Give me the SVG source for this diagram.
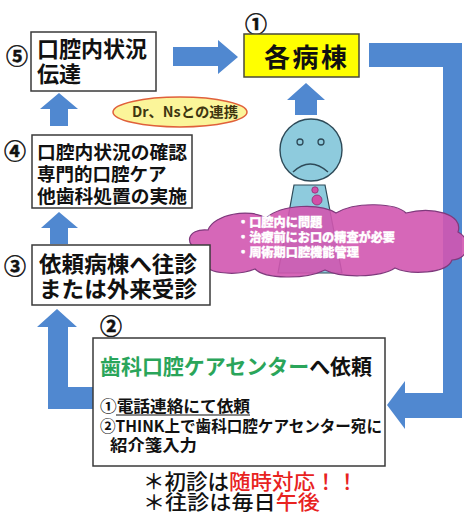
<svg xmlns="http://www.w3.org/2000/svg" width="464" height="516" viewBox="0 0 464 516">
  <style>
    .jp { font-family: "Noto Sans CJK JP", "Noto Sans", sans-serif; }
    .box { fill: #ffffff; stroke: #3a3a3a; stroke-width: 1.5; }
    .arrow { fill: #5088d0; }
    .num { font-size: 22px; font-weight: 700; fill: #111; stroke: #111; stroke-width: 0.5; }
    .t22 { font-size: 22px; font-weight: 700; fill: #111; }
    .t18 { font-size: 18.5px; font-weight: 700; fill: #111; }
    .t16 { font-size: 16px; font-weight: 700; fill: #111; }
    .cloudtxt { font-size: 12.2px; font-weight: 900; fill: #ffffff; stroke: #ffffff; stroke-width: 0.35; }
    .red { fill: #e8231f; }
    .green { fill: #2aa55a; }
  </style>

  <rect width="464" height="516" fill="#ffffff"/>

  <!-- connectors: block arrows -->
  <g id="connectors">
    <!-- box 5 to ward -->
    <polygon class="arrow" points="173,47 218,47 218,40 238,57 218,74 218,66 173,66"/>
    <!-- patient up to ward -->
    <polygon class="arrow" points="295,115 295,100 287,100 306,83 325,100 317,100 317,115"/>
    <!-- box 4 up to box 5 -->
    <polygon class="arrow" points="50,126 50,109 40,109 59,93 78,109 68,109 68,126"/>
    <!-- box 3 up to box 4 -->
    <polygon class="arrow" points="50,244 50,228 41,228 59,212 78,228 68,228 68,244"/>
    <!-- box 2 back up to box 3 -->
    <polygon class="arrow" points="57,309 77,327 68,327 68,387 94,387 94,409 48,409 48,327 37,327"/>
    <!-- ward round to box 2 -->
    <polygon class="arrow" points="369,43 462,43 462,418 405,418 405,429 387,405 405,381 405,393 443,393 443,67 369,67"/>
  </g>

  <!-- patient figure -->
  <g id="patient">
    <polygon points="294,185 325,185 342,273 278,273" fill="#8ecbdd" stroke="#2e4a58" stroke-width="1.2"/>
    <circle cx="315" cy="190" r="3.2" fill="#d24fa8" stroke="#8a2f70" stroke-width="0.8"/>
    <circle cx="317" cy="200" r="5" fill="#d24fa8" stroke="#8a2f70" stroke-width="0.8"/>
    <circle cx="311" cy="150" r="31" fill="#8ecbdd" stroke="#2e4a58" stroke-width="1.4"/>
    <circle cx="300" cy="142" r="3" fill="#8ecbdd" stroke="#2e4a58" stroke-width="1.3"/>
    <circle cx="321" cy="142" r="3" fill="#8ecbdd" stroke="#2e4a58" stroke-width="1.3"/>
    <path d="M293,172 Q310,156 328,172" fill="none" stroke="#2e4a58" stroke-width="1.5"/>
  </g>

  <!-- condition cloud -->
  <g id="cloud">
    <path d="M200,250 C184,246 186,228 208,230 C214,214 250,208 266,218 C282,204 320,203 336,213 C356,201 396,203 406,213 C432,206 464,214 458,232 C472,239 470,259 452,260 C447,274 410,275 395,268 C380,278 340,278 325,270 C305,280 265,279 255,269 C235,277 200,273 206,261 C194,261 192,254 200,250 Z"
          fill="#d257b0" fill-opacity="0.9" stroke="#7e3a7c" stroke-width="1.2"/>
    <text class="jp cloudtxt" x="237" y="227">・口腔内に問題</text>
    <text class="jp cloudtxt" x="237" y="242" textLength="158" lengthAdjust="spacingAndGlyphs">・治療前にお口の精査が必要</text>
    <text class="jp cloudtxt" x="237" y="257">・周術期口腔機能管理</text>
  </g>

  <!-- 1: ward -->
  <g id="ward">
    <text class="jp num" x="256" y="32" text-anchor="middle">①</text>
    <rect x="244" y="34" width="115" height="43" fill="#ffff00" stroke="#4a4a3a" stroke-width="1.5"/>
    <text class="jp" x="264" y="67" font-size="26" font-weight="700" fill="#111" textLength="83" lengthAdjust="spacing">各病棟</text>
  </g>

  <!-- 5: report oral condition -->
  <g id="step5">
    <text class="jp num" x="17" y="64" text-anchor="middle">⑤</text>
    <rect class="box" x="31" y="32" width="125" height="59"/>
    <text class="jp t22" x="37" y="57">口腔内状況</text>
    <text class="jp t22" x="37" y="82">伝達</text>
  </g>

  <!-- cooperation ellipse -->
  <g id="cooperation">
    <ellipse cx="180" cy="112" rx="67" ry="15" fill="#fbf59a" stroke="#e0603a" stroke-width="1.5"/>
    <text class="jp" x="185" y="117" font-size="14" font-weight="700" fill="#3e3510" text-anchor="middle" textLength="106" lengthAdjust="spacingAndGlyphs">Dr、Nsとの連携</text>
  </g>

  <!-- 4: examination and care -->
  <g id="step4">
    <text class="jp num" x="15" y="159" text-anchor="middle">④</text>
    <rect class="box" x="32" y="135" width="160" height="73"/>
    <text class="jp t18" x="37" y="159" textLength="150" lengthAdjust="spacingAndGlyphs">口腔内状況の確認</text>
    <text class="jp t18" x="37" y="181">専門的口腔ケア</text>
    <text class="jp t18" x="37" y="203" textLength="150" lengthAdjust="spacingAndGlyphs">他歯科処置の実施</text>
  </g>

  <!-- 3: visit or outpatient -->
  <g id="step3">
    <text class="jp num" x="15" y="274" text-anchor="middle">③</text>
    <rect class="box" x="32" y="245" width="178" height="60"/>
    <text class="jp t22" x="39" y="272" textLength="158" lengthAdjust="spacingAndGlyphs">依頼病棟へ往診</text>
    <text class="jp t22" x="39" y="297" textLength="158" lengthAdjust="spacingAndGlyphs">または外来受診</text>
  </g>

  <!-- 2: request to dental care center -->
  <g id="step2">
    <text class="jp num" x="111" y="334" text-anchor="middle">②</text>
    <rect class="box" x="93" y="338" width="292" height="128"/>
    <text class="jp" x="100" y="374" font-size="21" font-weight="700" fill="#111" textLength="272" lengthAdjust="spacingAndGlyphs"><tspan class="green">歯科口腔ケアセンター</tspan>へ依頼</text>
    <text class="jp t16" x="100" y="412" textLength="150" lengthAdjust="spacingAndGlyphs">①電話連絡にて依頼</text>
    <line x1="116" y1="415" x2="250" y2="415" stroke="#111" stroke-width="1.2"/>
    <text class="jp t16" x="100" y="432" textLength="282" lengthAdjust="spacingAndGlyphs">②THINK上で歯科口腔ケアセンター宛に</text>
    <text class="jp t16" x="110" y="451" textLength="87" lengthAdjust="spacingAndGlyphs">紹介箋入力</text>
  </g>

  <!-- notes -->
  <g id="notes">
    <text class="jp" x="143" y="489" font-size="21" font-weight="500" fill="#111" textLength="215" lengthAdjust="spacingAndGlyphs">＊初診は<tspan class="red">随時対応！！</tspan></text>
    <text class="jp" x="143" y="510" font-size="20.5" font-weight="500" fill="#111" textLength="177" lengthAdjust="spacingAndGlyphs">＊往診は毎日<tspan class="red">午後</tspan></text>
  </g>
</svg>
